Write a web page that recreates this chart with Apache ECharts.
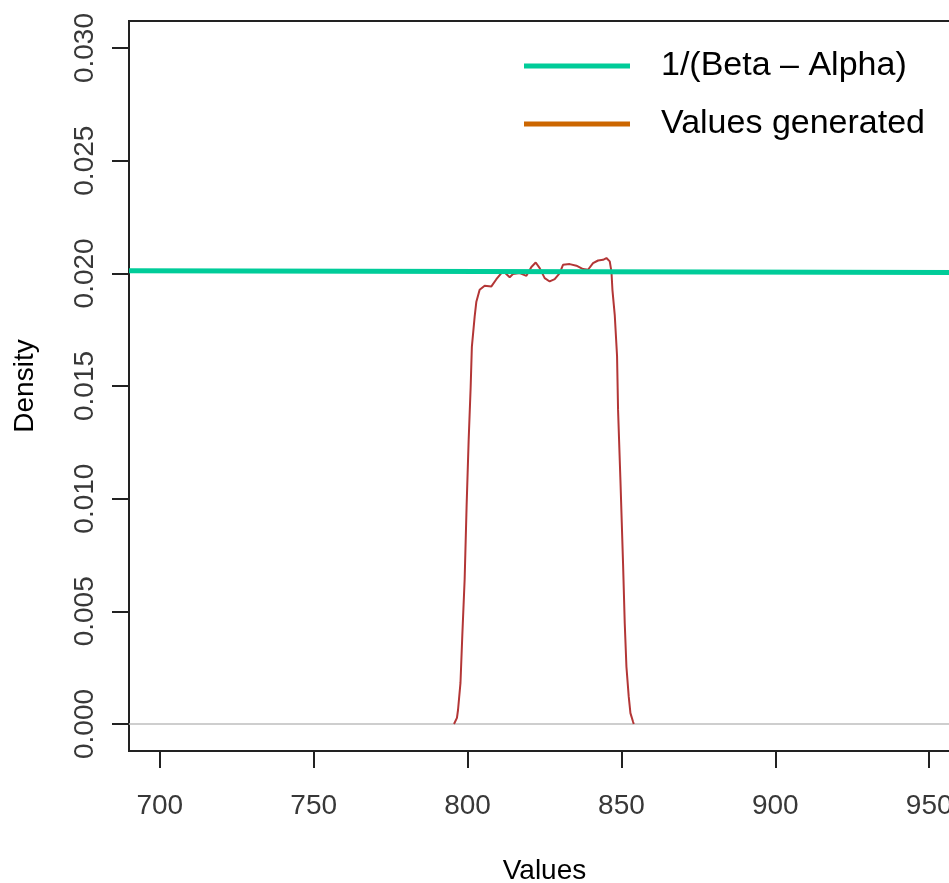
<!DOCTYPE html>
<html>
<head>
<meta charset="utf-8">
<script src="https://cdn.jsdelivr.net/npm/echarts@6/dist/echarts.min.js"></script>
<style>html,body{margin:0;padding:0;background:#fff}#c{width:949px;height:883px}</style>
</head>
<body>
<div id="c"></div>
<script>
// Tick labels
var xTicks = [700, 750, 800, 850, 900, 950];
var yTicks = [0, 0.005, 0.010, 0.015, 0.020, 0.025, 0.030];

// Density curve of generated values
var densityX = [795.6, 796.55, 796.9, 797.7, 798.3, 799.05, 799.7, 800.36, 801.0, 801.4, 802.3, 802.86, 803.93, 805.56, 807.74, 809.36, 810.99, 812.06, 813.69, 814.76, 816.94, 819.12, 820.74, 822.14, 823.44, 825.06, 826.69, 828.32, 829.94, 831.01, 833.19, 835.37, 837.52, 839.14, 840.77, 842.4, 844.02, 845.12, 846.2, 846.75, 847.07, 847.82, 848.57, 848.9, 849.67, 850.52, 851.07, 851.62, 852.37, 852.92, 853.77, 854.0];
var densityY = [0, 0.00027, 0.00062, 0.00182, 0.00395, 0.0064, 0.00972, 0.01261, 0.01492, 0.01674, 0.01807, 0.01874, 0.01927, 0.01945, 0.01942, 0.01974, 0.02001, 0.02004, 0.01983, 0.01997, 0.02001, 0.01989, 0.02028, 0.02048, 0.02023, 0.01979, 0.01964, 0.01974, 0.02001, 0.02038, 0.02041, 0.02034, 0.02019, 0.02016, 0.02045, 0.02057, 0.0206, 0.02068, 0.02053, 0.02008, 0.01927, 0.01816, 0.01634, 0.01394, 0.01083, 0.00713, 0.00447, 0.00254, 0.00121, 0.00048, 0.0001, 0];

// Reference line 1/(Beta - Alpha)
var refX = [690, 960];
var refY = [0.02012, 0.02004];

// Zero line
var zeroX = [690, 960];
var zeroY = [0, 0];

var seriesNames = ['1/(Beta \u2013 Alpha)', 'Values generated'];

function pairs(xs, ys) { return xs.map(function (x, i) { return [x, ys[i]]; }); }

var chart = echarts.init(document.getElementById('c'), null, { renderer: 'canvas' });
var font = 'Liberation Sans, Arial, sans-serif';
chart.setOption({
  animation: false,
  backgroundColor: '#ffffff',
  grid: { left: 129, top: 21, bottom: 132, right: -11, containLabel: false, outerBoundsMode: 'none', show: true, borderColor: '#222', borderWidth: 2, backgroundColor: 'transparent' },
  legend: {
    orient: 'vertical', left: 524, top: 47, padding: 0, itemGap: 20,
    itemWidth: 106, itemHeight: 5, icon: 'rect',
    textStyle: { fontFamily: font, fontSize: 34, color: '#000', lineHeight: 38, padding: [0, 0, 0, 26] },
    data: [
      { name: seriesNames[0], itemStyle: { color: '#00cc99' } },
      { name: seriesNames[1], itemStyle: { color: '#cc6600' } }
    ]
  },
  xAxis: {
    type: 'value', min: 690, max: 960,
    name: 'Values', nameLocation: 'middle', nameGap: 106,
    nameTextStyle: { fontFamily: font, fontSize: 28, color: '#000' },
    axisLine: { show: false, onZero: false },
    splitLine: { show: false },
    axisTick: { show: true, inside: false, length: 17, lineStyle: { color: '#222', width: 2 }, customValues: xTicks },
    axisLabel: { fontFamily: font, fontSize: 28, color: '#383838', margin: 41, customValues: xTicks, formatter: function (v) { return String(v); } }
  },
  yAxis: {
    type: 'value', min: -0.0012, max: 0.0312,
    name: 'Density', nameLocation: 'middle', nameGap: 90, nameRotate: 90,
    nameTextStyle: { fontFamily: font, fontSize: 28, color: '#000' },
    axisLine: { show: false, onZero: false },
    splitLine: { show: false },
    axisTick: { show: true, inside: false, length: 17, lineStyle: { color: '#222', width: 2 }, customValues: yTicks },
    axisLabel: { fontFamily: font, fontSize: 28, color: '#383838', margin: 30, rotate: 90, customValues: yTicks, formatter: function (v) { return v.toFixed(3); } }
  },
  series: [
    { name: 'zero', type: 'line', data: pairs(zeroX, zeroY), symbol: 'none', lineStyle: { color: '#bebebe', width: 1.5 }, silent: true, z: 1 },
    { name: seriesNames[1], type: 'line', data: pairs(densityX, densityY), symbol: 'none', smooth: false, lineStyle: { color: '#b33636', width: 2 }, itemStyle: { color: '#cc6600' }, z: 2 },
    { name: seriesNames[0], type: 'line', data: pairs(refX, refY), symbol: 'none', lineStyle: { color: '#00cc99', width: 5 }, itemStyle: { color: '#00cc99' }, z: 3 }
  ]
});
</script>
</body>
</html>
